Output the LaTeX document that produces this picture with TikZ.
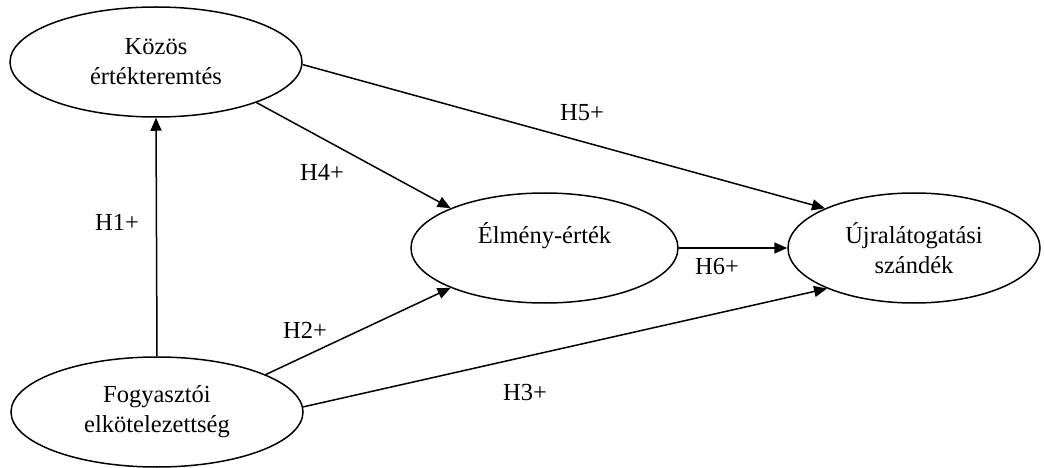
\documentclass[tikz,border=0pt]{standalone}
\usepackage{fontspec}
\setmainfont{Liberation Serif}
\usetikzlibrary{shapes.geometric,arrows.meta}
\begin{document}
\begin{tikzpicture}[x=1pt,y=-1pt,
  construct/.style={draw,ellipse,line width=1.5pt,inner sep=0pt,align=center,
    font=\fontsize{24.5}{30}\selectfont},
  hypline/.style={-{Triangle[length=13pt,width=11pt]},line width=1.5pt},
  hyp/.style={font=\fontsize{24.5}{30}\selectfont,inner sep=0pt}]
\useasboundingbox (0,0) rectangle (1045,468);
\node[construct,minimum width=292pt,minimum height=110pt] (koz) at (156,62) {Közös\\értékteremtés};
\node[construct,minimum width=292pt,minimum height=110pt] (fog) at (157,412) {Fogyasztói\\elkötelezettség};
\node[construct,minimum width=267pt,minimum height=110pt] (elm) at (544.5,248) {Élmény-érték\\\mbox{}};
\node[construct,minimum width=252pt,minimum height=110pt] (ujr) at (914,248) {Újralátogatási\\szándék};

\draw[hypline] (fog.north) -- (koz.south);
\draw[hypline] (koz.-22) -- (elm.157.5);
\draw[hypline] (koz.-1) -- (ujr.156);
\draw[hypline] (fog.19) -- (elm.-157);
\draw[hypline] (fog.2) -- (ujr.-155);
\draw[hypline] (elm.east) -- (ujr.west);

\node[hyp] (h1) at (117,222) {H1+};
\node[hyp] (h2) at (305,330) {H2+};
\node[hyp] (h3) at (525,393) {H3+};
\node[hyp] (h4) at (322,172) {H4+};
\node[hyp] (h5) at (582,113) {H5+};
\node[hyp] (h6) at (717,267) {H6+};
\end{tikzpicture}
\end{document}
